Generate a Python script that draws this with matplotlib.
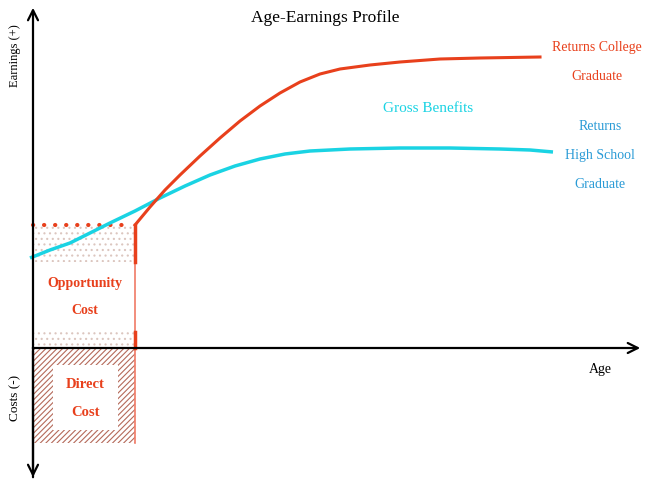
import numpy as np
import matplotlib.pyplot as plt
from matplotlib.patches import Rectangle

# Data (age units from origin, earnings up positive, costs down negative)
age_college = [102, 117, 132, 147, 167, 187, 207, 227, 247, 267, 287, 307, 337, 367, 407, 447, 507]
earn_college = [123, 141, 158, 173, 192, 210, 227, 242, 255, 266, 274, 279, 283, 286, 289, 290, 291]

age_hs = [-3, 17, 37, 57, 77, 102, 127, 152, 177, 202, 227, 252, 277, 317, 367, 417, 467, 497, 520]
earn_hs = [90, 98, 105, 115, 125, 137, 150, 162, 173, 182, 189, 194, 197, 199, 200, 200, 199, 198, 196]

school_end = 102        # end of schooling
forgone_level = 123     # earnings forgone while in school
direct_cost = -95       # direct cost depth

red = '#e8401c'
cyan = '#1ad3e3'
blue = '#2a9bd6'

plt.rcParams['font.family'] = ['Liberation Serif', 'DejaVu Serif']
plt.rcParams['hatch.linewidth'] = 0.8

fig = plt.figure(figsize=(6.45, 4.84), dpi=100)
ax = fig.add_axes([0, 0, 1, 1])
ax.set_xlim(-33, 612)
ax.set_ylim(-136, 348)
ax.axis('off')

# axes arrows
ax.annotate('', xy=(0, 343), xytext=(0, -132),
            arrowprops=dict(arrowstyle='->', lw=1.6, color='black', mutation_scale=18))
ax.annotate('', xy=(0, -132), xytext=(0, 0),
            arrowprops=dict(arrowstyle='->', lw=1.6, color='black', mutation_scale=18))
ax.annotate('', xy=(610, 0), xytext=(-3, 0),
            arrowprops=dict(arrowstyle='->', lw=1.6, color='black', mutation_scale=18))

# opportunity cost stippled bands
ax.add_patch(Rectangle((0, 86), school_end, forgone_level - 86, facecolor='none',
                       edgecolor='#dcc6bf', hatch='...', lw=0))
ax.add_patch(Rectangle((0, 0), school_end, 16, facecolor='none',
                       edgecolor='#dcc6bf', hatch='...', lw=0))

# direct cost box
ax.add_patch(Rectangle((0, direct_cost), school_end, -direct_cost, facecolor='white',
                       edgecolor='#b56a5a', hatch='//////', lw=0))
ax.add_patch(Rectangle((20, -82), 65, 65, facecolor='white', edgecolor='none'))

# forgone earnings dotted line
ax.plot([0, school_end - 6], [forgone_level, forgone_level], color=red, lw=3,
        linestyle=(0, (0.05, 2.6)), dash_capstyle='round')

# vertical line at end of school
ax.plot([school_end, school_end], [forgone_level, direct_cost], color='#f07a66', lw=1.2)
ax.plot([school_end, school_end], [forgone_level, 86], color=red, lw=2.5)
ax.plot([school_end, school_end], [0, 16], color=red, lw=2.5)

# earnings curves
ax.plot(age_hs, earn_hs, color=cyan, lw=2.5, solid_capstyle='butt')
ax.plot(age_college, earn_college, color=red, lw=2.2, solid_joinstyle='round')

# labels
ax.text(292, 330, 'Age-Earnings Profile', ha='center', va='center', fontsize=12.5)
ax.text(567, -21, 'Age', ha='center', va='center', fontsize=10)
ax.text(-18, 292, 'Earnings (+)', ha='center', va='center', rotation=90, fontsize=9)
ax.text(-18, -50, 'Costs (-)', ha='center', va='center', rotation=90, fontsize=9.5)

ax.text(52, 65, 'Opportunity', ha='center', va='center', color=red,
        fontsize=10, fontweight='bold')
ax.text(52, 37, 'Cost', ha='center', va='center', color=red,
        fontsize=10, fontweight='bold')
ax.text(52, -37, 'Direct', ha='center', va='center', color=red,
        fontsize=10.5, fontweight='bold')
ax.text(52, -65, 'Cost', ha='center', va='center', color=red,
        fontsize=10.5, fontweight='bold')

ax.text(395, 240, 'Gross Benefits', ha='center', va='center', color=cyan, fontsize=11)

ax.text(564, 301, 'Returns College', ha='center', va='center', color=red, fontsize=10)
ax.text(564, 272, 'Graduate', ha='center', va='center', color=red, fontsize=10)
ax.text(567, 221, 'Returns', ha='center', va='center', color=blue, fontsize=10)
ax.text(567, 192, 'High School', ha='center', va='center', color=blue, fontsize=10)
ax.text(567, 163, 'Graduate', ha='center', va='center', color=blue, fontsize=10)

fig.savefig('out.png', dpi=100)
